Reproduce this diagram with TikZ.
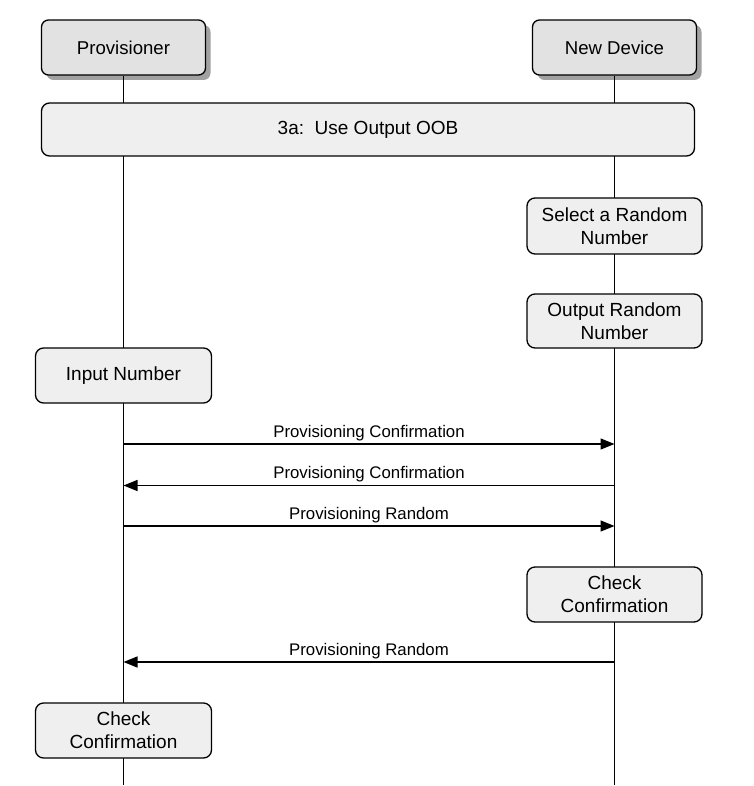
\documentclass[tikz,border=0pt]{standalone}
\usepackage{fontspec}
\setmainfont{Liberation Sans}
\usetikzlibrary{arrows.meta,shadows}
\definecolor{hdrgray}{HTML}{E2E2E2}
\definecolor{actgray}{HTML}{EFEFEF}
\definecolor{shadowgray}{HTML}{8A8A8A}
\begin{document}
\begin{tikzpicture}[x=1pt,y=-1pt,
  hdr/.style={draw=black, line width=1.3pt, rounded corners=7pt, fill=hdrgray,
    minimum width=164pt, minimum height=55pt, inner sep=0pt,
    font=\fontsize{18.6}{22}\selectfont,
    drop shadow={shadow xshift=5pt, shadow yshift=-5pt, fill=shadowgray, opacity=0.8}},
  act/.style={draw=black, line width=1.3pt, rounded corners=8pt, fill=actgray,
    minimum width=175pt, minimum height=55pt, inner sep=0pt, align=center,
    font=\fontsize{19}{23}\selectfont},
  life/.style={line width=1.3pt},
  msg/.style={line width=1.3pt, -{Triangle[length=14pt,width=11pt]}},
  lbl/.style={font=\fontsize{16.8}{19}\selectfont, above=0.5pt, inner sep=2pt}]
\useasboundingbox (0,0) rectangle (753,786);
% lifeline coordinates
\coordinate (pend) at (123.5,785);
\coordinate (nend) at (614.5,785);
% headers
\node[hdr] (ph) at (123.5,47.5) {Provisioner};
\node[hdr] (nh) at (614.5,47.5) {New Device};
% lifelines
\draw[life] (ph.south) -- (pend);
\draw[life] (nh.south) -- (nend);
% boxes
\node[act, minimum width=653pt, minimum height=53pt] (oob) at (368,129.5) {3a:\ \ Use Output OOB};
\node[act, minimum height=56pt] (sel) at (614.5,226) {Select a Random\\Number};
\node[act, minimum height=54pt] (out) at (614.5,321) {Output Random\\Number};
\node[act, minimum width=176pt] (inp) at (123.5,375.5) {Input Number};
\node[act] (ckr) at (614.5,594.5) {Check\\Confirmation};
\node[act, minimum width=176pt] (ckl) at (123.5,730.5) {Check\\Confirmation};
% message end points
\coordinate (p1) at (123.5,444); \coordinate (n1) at (614.5,444);
\coordinate (p2) at (123.5,485.5); \coordinate (n2) at (614.5,485.5);
\coordinate (p3) at (123.5,526); \coordinate (n3) at (614.5,526);
\coordinate (p4) at (123.5,662); \coordinate (n4) at (614.5,662);
% messages
\draw[msg] (p1) -- node[lbl] {Provisioning Confirmation} (n1);
\draw[msg] (n2) -- node[lbl] {Provisioning Confirmation} (p2);
\draw[msg] (p3) -- node[lbl] {Provisioning Random} (n3);
\draw[msg] (n4) -- node[lbl] {Provisioning Random} (p4);
\end{tikzpicture}
\end{document}
